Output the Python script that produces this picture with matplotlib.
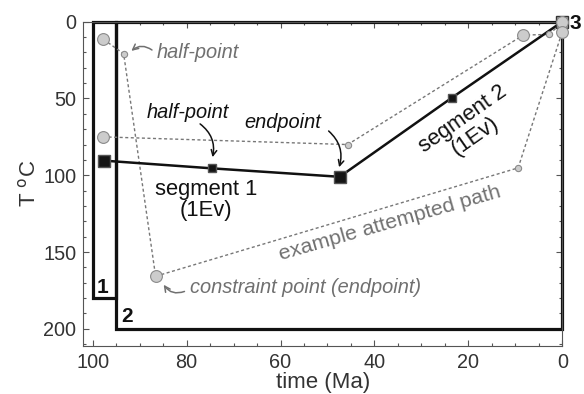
import matplotlib
matplotlib.use("Agg")
import matplotlib.pyplot as plt
from matplotlib.patches import Rectangle
from matplotlib.ticker import MultipleLocator

plt.rcParams['font.family'] = ['Liberation Sans', 'DejaVu Sans']

# constraint boxes (time range, temperature range)
box1_time = [100, 95]
box1_temp = [0, 180]
box2_time = [95, 0]
box2_temp = [0, 200]

# best path (black)
path_time = [97.5, 74.6, 47.4, 23.5, 0.0]
path_temp = [90.5, 95.5, 101.0, 49.5, 0.0]
path_big = [True, False, True, False, True]

# gray path upper (through endpoint)
gB_time = [97.8, 45.7, 8.3, 2.8, 0.0]
gB_temp = [75.0, 80.0, 8.7, 8.3, 0.5]
gB_big = [True, False, True, False, True]

# example attempted path
gA_time = [97.7, 93.4, 86.6, 9.4, 0.0]
gA_temp = [11.5, 20.9, 165.8, 95.2, 6.5]
gA_big = [True, False, True, False, True]

fig = plt.figure(figsize=(5.84, 3.94), dpi=100)
ax = fig.add_axes([0.1426, 0.1226, 0.8202, 0.8223])
ax.set_xlim(102, 0)
ax.set_ylim(211, 0)

grey = '#707070'
for t, T in [(box1_time, box1_temp), (box2_time, box2_temp)]:
    ax.add_patch(Rectangle((min(t), min(T)), abs(t[1] - t[0]), abs(T[1] - T[0]),
                           fill=False, ec='#111111', lw=2.3, clip_on=False, zorder=2))

for gt, gT, gb in [(gB_time, gB_temp, gB_big), (gA_time, gA_temp, gA_big)]:
    ax.plot(gt, gT, ls=(0, (2.2, 1.8)), color='#777777', lw=1.0, zorder=3, clip_on=False)
    for x, y, b in zip(gt, gT, gb):
        ax.plot(x, y, 'o', ms=8.5 if b else 4.5, mfc='#cccccc', mec='#8a8a8a', mew=0.8,
                zorder=5, clip_on=False)

ax.plot(path_time, path_temp, '-', color='#111111', lw=1.8, zorder=4, clip_on=False)
for x, y, b in zip(path_time, path_temp, path_big):
    if x == 0:
        ax.plot(x, y, 's', ms=9, mfc='#aaaaaa', mec='#333333', mew=1.0, zorder=4.5, clip_on=False)
    else:
        ax.plot(x, y, 's', ms=9 if b else 5.5, mfc='#151515', mec='#555555', mew=1.0,
                zorder=6, clip_on=False)

# annotations
ax.text(86.3, 20, 'half-point', color=grey, style='italic', fontsize=14.4, ha='left', va='center')
ax.annotate('', xy=(92.2, 20.2), xytext=(86.9, 19.5),
            arrowprops=dict(arrowstyle='->', color=grey, lw=1.1, connectionstyle='arc3,rad=0.45'))

ax.text(88.6, 59, 'half-point', color='#111111', style='italic', fontsize=14.4, ha='left', va='center')
ax.annotate('', xy=(74.6, 90.0), xytext=(77.6, 65.5),
            arrowprops=dict(arrowstyle='->', color='#111111', lw=1.1, connectionstyle='arc3,rad=-0.35'))

ax.text(51.3, 65.5, 'endpoint', color='#111111', style='italic', fontsize=14.4, ha='right', va='center')
ax.annotate('', xy=(47.7, 96.5), xytext=(50.2, 70.0),
            arrowprops=dict(arrowstyle='->', color='#111111', lw=1.1, connectionstyle='arc3,rad=-0.35'))

ax.text(75.8, 116, 'segment 1\n(1Ev)', color='#111111', fontsize=15.8, ha='center', va='center',
        linespacing=1.0)
ax.text(19.8, 69, 'segment 2\n(1Ev)', color='#111111', fontsize=15.8, ha='center', va='center',
        linespacing=1.0, rotation=35, rotation_mode='anchor')
ax.text(36.7, 131.5, 'example attempted path', color=grey, fontsize=15.4, ha='center', va='center',
        rotation=16, rotation_mode='anchor')

ax.text(79.2, 173.2, 'constraint point (endpoint)', color=grey, style='italic', fontsize=14.4,
        ha='left', va='center')
ax.annotate('', xy=(85.2, 169.8), xytext=(79.9, 175.0),
            arrowprops=dict(arrowstyle='->', color=grey, lw=1.1, connectionstyle='arc3,rad=-0.45'))

ax.text(98.0, 173.0, '1', fontsize=15, fontweight='bold', ha='center', va='center', color='#111111')
ax.text(92.6, 192.0, '2', fontsize=15, fontweight='bold', ha='center', va='center', color='#111111')
ax.text(-2.7, 1.3, '3', fontsize=15, fontweight='bold', ha='center', va='center', color='#111111',
        clip_on=False)

# axes styling
ax.xaxis.set_major_locator(MultipleLocator(20))
ax.xaxis.set_minor_locator(MultipleLocator(5))
ax.yaxis.set_major_locator(MultipleLocator(50))
ax.yaxis.set_minor_locator(MultipleLocator(10))
ax.tick_params(which='both', direction='in', top=True, right=True, color='#555555', width=0.8,
               labelsize=14.3, labelcolor='#333333', pad=5)
ax.tick_params(which='major', length=4.3)
ax.tick_params(which='minor', length=2.2)
for s in ax.spines.values():
    s.set_color('#555555')
    s.set_linewidth(0.8)

ax.set_xlabel('time (Ma)', fontsize=16, color='#333333', labelpad=0)
ax.set_ylabel('T $^{\\mathrm{o}}$C', fontsize=16, color='#333333', labelpad=2)

fig.savefig('out.png', dpi=100)
